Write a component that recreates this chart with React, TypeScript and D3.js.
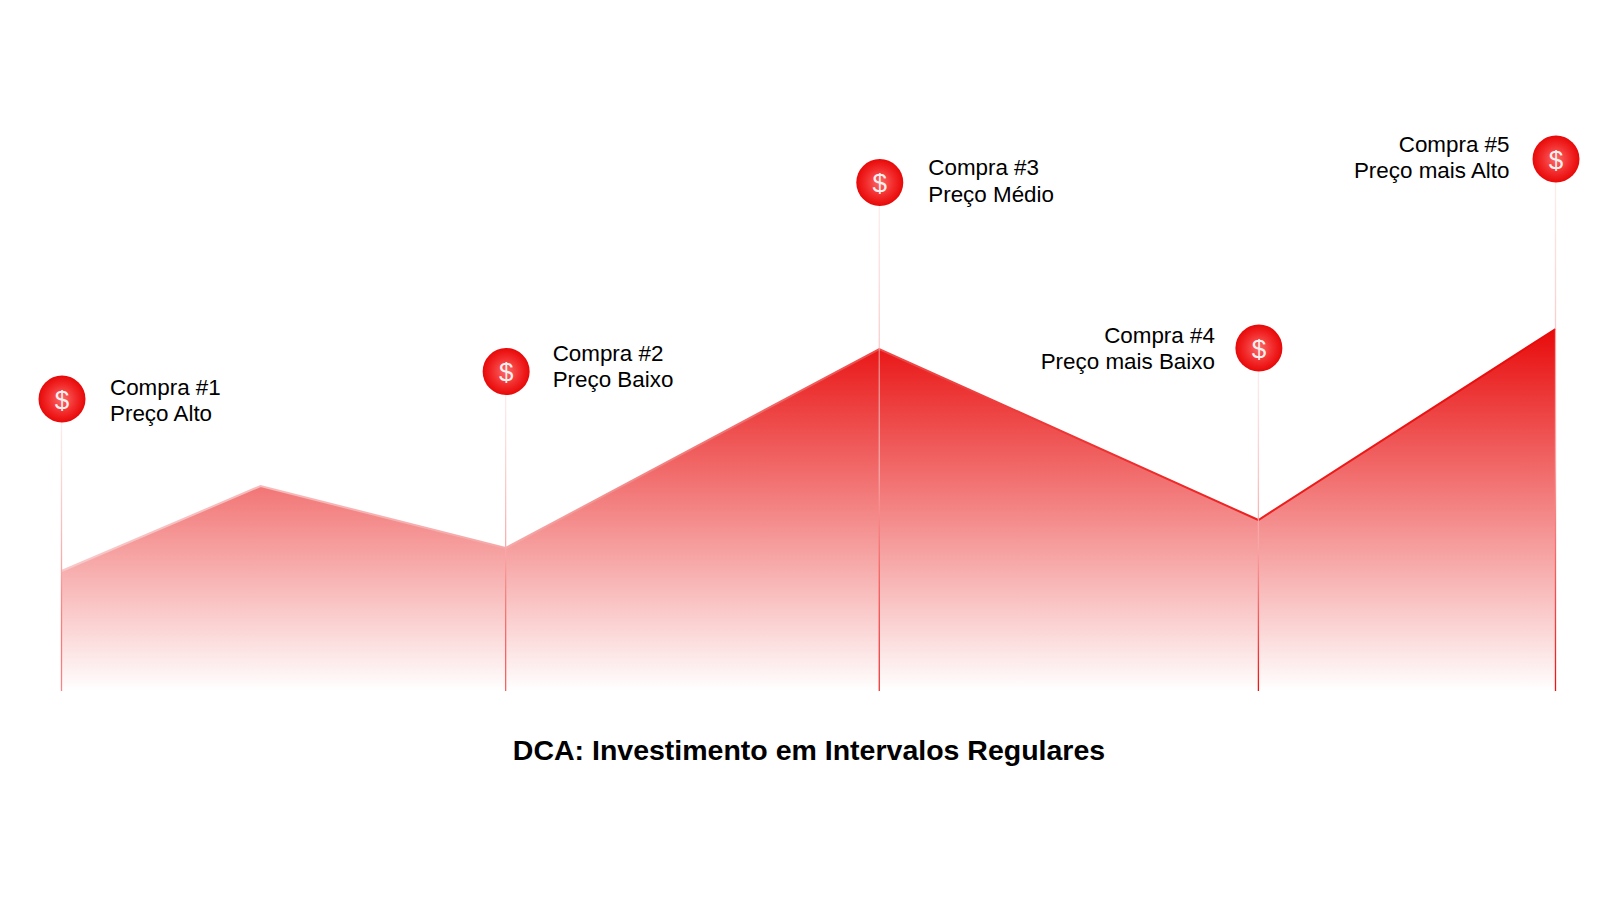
import React from "react";
import * as d3 from "d3";

const times = [0, 199, 444, 817.5, 1196.5, 1493.5];
const prices = [120, 205, 143, 342, 171, 362];
const purchaseTimes = [0, 444, 817.5, 1196.5, 1493.5];
const markerLevels = [292, 319.5, 508.5, 343, 532];
const buyLabels = ["Compra #1", "Compra #2", "Compra #3", "Compra #4", "Compra #5"];
const priceLabels = ["Preço Alto", "Preço Baixo", "Preço Médio", "Preço mais Baixo", "Preço mais Alto"];
const labelSides = [1, 1, 1, -1, -1];
const title = "DCA: Investimento em Intervalos Regulares";

// layout tweaks per label, kept apart from the data
const labelDx = [0.5, -1, 1, 1, -1.5];
const labelDy = [0, -6.5, -3, -1, -3];
const stemStrength = [0.5, 0.65, 0.85, 1, 1];

const x = d3.scaleLinear().domain([0, 1493.5]).range([61.5, 1555.5]);
const y = d3.scaleLinear().domain([0, 363]).range([691, 328]);
const FONT = '"Liberation Sans", Arial, sans-serif';

export default function App() {
  const pts = times.map((t, i) => [t, prices[i]] as [number, number]);
  const area = d3.area<[number, number]>().x(d => x(d[0])).y0(y(0)).y1(d => y(d[1]))(pts) || "";
  const line = d3.line<[number, number]>().x(d => x(d[0])).y(d => y(d[1]))(pts) || "";
  return (
    <svg width={1600} height={901} style={{ position: "absolute", left: 0, top: 0, background: "#fff" }}>
      <defs>
        <linearGradient id="fillG" gradientUnits="userSpaceOnUse" x1={0} x2={0} y1={y(363)} y2={y(0)}>
          <stop offset="0" stopColor="#e80a0a" />
          <stop offset="1" stopColor="#e80a0a" stopOpacity={0} />
        </linearGradient>
        <linearGradient id="edgeG" gradientUnits="userSpaceOnUse" x1={x(0)} x2={x(1493.5)} y1={0} y2={0}>
          <stop offset="0" stopColor="#f8c8c8" />
          <stop offset="0.3" stopColor="#f6a8a8" />
          <stop offset="0.55" stopColor="#ee4a4a" />
          <stop offset="0.8" stopColor="#ee2020" />
          <stop offset="1" stopColor="#e80a0a" />
        </linearGradient>
        <radialGradient id="coin" cx="0.5" cy="0.5" r="0.5">
          <stop offset="0" stopColor="#fa6a6a" />
          <stop offset="0.6" stopColor="#f22a2a" />
          <stop offset="1" stopColor="#e80808" />
        </radialGradient>
        {purchaseTimes.map((t, i) => (
          <linearGradient key={i} id={`stem${i}`} gradientUnits="userSpaceOnUse" x1={0} x2={0} y1={y(markerLevels[i]) + 23} y2={y(0)}>
            <stop offset="0" stopColor="#f9c0c0" stopOpacity={0.3} />
            <stop offset="0.55" stopColor="#f9a5a5" />
            <stop offset="1" stopColor="#f01010" stopOpacity={stemStrength[i]} />
          </linearGradient>
        ))}
      </defs>
      <path d={area} fill="url(#fillG)" />
      <path d={line} fill="none" stroke="url(#edgeG)" strokeWidth={2} strokeLinejoin="miter" />
      {purchaseTimes.map((t, i) => {
        const cx = x(t), cy = y(markerLevels[i]), side = labelSides[i];
        const tx = (side > 0 ? cx + 48 : cx - 44.5) + labelDx[i];
        const anchor = side > 0 ? "start" : "end";
        return (
          <g key={i}>
            <line x1={cx} x2={cx} y1={cy + 23} y2={y(0)} stroke={`url(#stem${i})`} strokeWidth={1.3} />
            <circle cx={cx + 0.5} cy={cy} r={23.5} fill="url(#coin)" />
            <text x={cx + 0.5} y={cy + 9.5} textAnchor="middle" fontFamily={FONT} fontSize={26} fill="#fff0f0">$</text>
            <text x={tx} y={cy - 4.5 + labelDy[i]} textAnchor={anchor} fontFamily={FONT} fontSize={22.4} fill="#000">{buyLabels[i]}</text>
            <text x={tx} y={cy + 22 + labelDy[i]} textAnchor={anchor} fontFamily={FONT} fontSize={22.4} fill="#000">{priceLabels[i]}</text>
          </g>
        );
      })}
      <text x={809} y={760} textAnchor="middle" fontFamily={FONT} fontSize={28.5} fontWeight={700} fill="#000">{title}</text>
    </svg>
  );
}
